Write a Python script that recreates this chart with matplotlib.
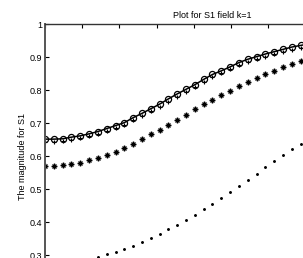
import numpy as np
import matplotlib.pyplot as plt

plt.rcParams['font.family'] = ['Liberation Sans', 'DejaVu Sans']

# x grid: 39 samples over 0..9, only the visible part is kept
x = np.linspace(0, 9, 39)[:31]

# values
s_circle = [0.652, 0.652, 0.653, 0.658, 0.662, 0.668, 0.675, 0.684, 0.693, 0.702,
            0.717, 0.730, 0.744, 0.758, 0.774, 0.789, 0.803, 0.817, 0.833, 0.848,
            0.859, 0.871, 0.884, 0.894, 0.902, 0.910, 0.917, 0.924, 0.931, 0.936,
            0.941]
s_plus = [v - 0.008 for v in s_circle]
s_star = [0.571, 0.571, 0.573, 0.577, 0.581, 0.588, 0.595, 0.604, 0.613, 0.624,
          0.637, 0.651, 0.667, 0.680, 0.696, 0.711, 0.726, 0.742, 0.758, 0.772,
          0.786, 0.799, 0.813, 0.824, 0.836, 0.849, 0.859, 0.871, 0.880, 0.889,
          0.897]
s_dot = [0.294, 0.303, 0.310, 0.319, 0.329, 0.340, 0.352, 0.365, 0.379, 0.392,
         0.408, 0.422, 0.439, 0.455, 0.473, 0.491, 0.509, 0.528, 0.547, 0.567,
         0.586, 0.604, 0.621, 0.638, 0.655]
x_dot = x[6:6 + len(s_dot)]

fig = plt.figure(figsize=(3.03, 2.58), dpi=100)
ax = fig.add_axes([45 / 303, -0.1174, 335 / 303, 264 / 258])

ax.plot(x, s_circle, '-', color='black', lw=1.1)
ax.plot(x, s_circle, 'o', color='black', ms=4.4, mew=0.9, fillstyle='none')
ax.plot(x, s_plus, '+', color='black', ms=3.4, mew=0.8)
# MATLAB-like asterisk: + and x combined
ax.plot(x, s_star, ls='none', marker='+', color='black', ms=4.0, mew=1.0)
ax.plot(x, s_star, ls='none', marker='x', color='black', ms=3.4, mew=1.0)
ax.plot(x_dot, s_dot, '.', color='black', ms=2.2)

ax.set_xlim(0, 9)
ax.set_ylim(0.2, 1)
ax.set_xticks(np.arange(0, 10, 1))
ax.set_yticks(np.arange(0.2, 1.01, 0.1))
ax.set_yticklabels(['0.2', '0.3', '0.4', '0.5', '0.6', '0.7', '0.8', '0.9', '1'])
ax.tick_params(direction='in', length=3, width=0.8, labelsize=6.5, pad=2,
               top=True, right=True, labelbottom=False)
for sp in ax.spines.values():
    sp.set_linewidth(1.0)
    sp.set_color('#333333')
ax.spines['left'].set_linewidth(1.4)
ax.spines['left'].set_color('#555555')

ax.set_title('Plot for S1 field k=1', fontsize=6.5, pad=4.5)
ax.set_ylabel('The magnitude for S1', fontsize=6.5, labelpad=2)

fig.savefig('out.png', dpi=100)
